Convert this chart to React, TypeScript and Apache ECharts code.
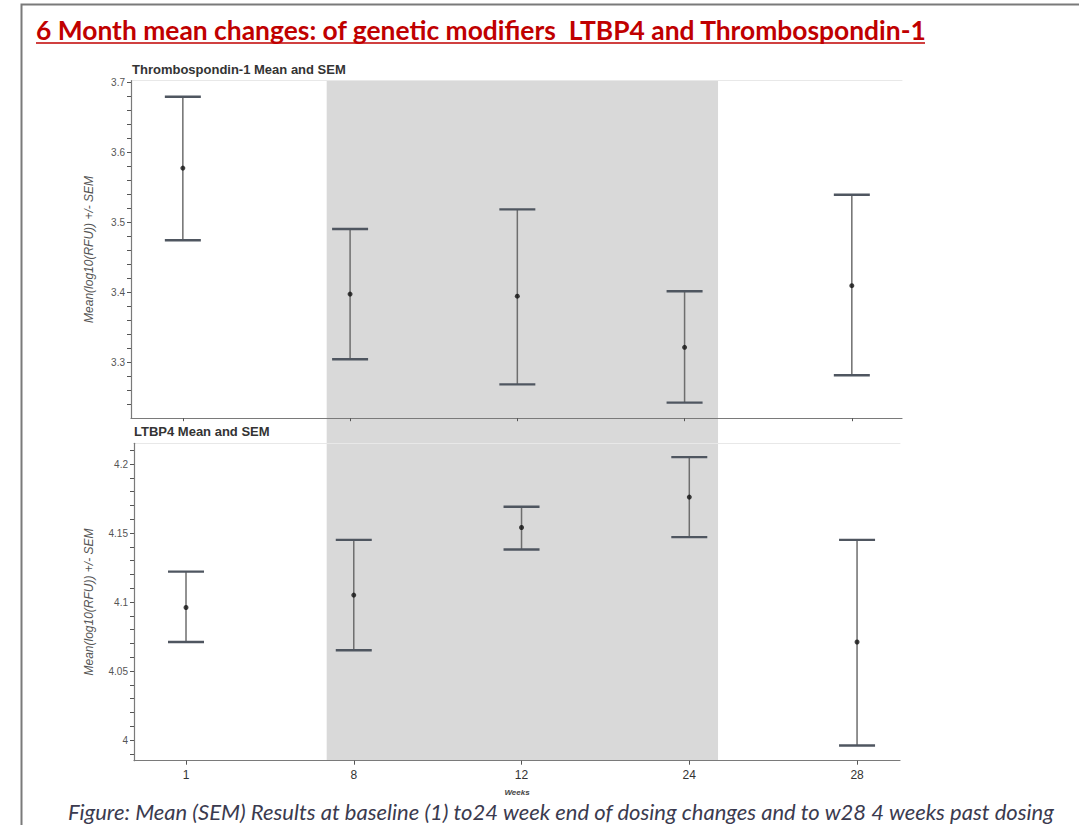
import React, { useEffect, useRef } from 'react';
import * as echarts from 'echarts';

// ---------- data ----------
const weeks = ['1', '8', '12', '24', '28'];
const weekIndex = [0, 1, 2, 3, 4];

const thbsMean = [3.578, 3.398, 3.395, 3.322, 3.41];
const thbsLow = [3.475, 3.305, 3.269, 3.243, 3.282];
const thbsHigh = [3.68, 3.491, 3.519, 3.402, 3.54];

const ltbpMean = [4.096, 4.105, 4.154, 4.176, 4.071];
const ltbpLow = [4.071, 4.065, 4.138, 4.147, 3.996];
const ltbpHigh = [4.122, 4.145, 4.169, 4.205, 4.145];

// dosing period shading, in week-index units
const dosingStart = 0.86;
const dosingEnd = 3.2;

const thbsTicks = [3.24, 3.26, 3.28, 3.3, 3.32, 3.34, 3.36, 3.38, 3.4, 3.42, 3.44, 3.46, 3.48, 3.5, 3.52, 3.54, 3.56, 3.58, 3.6, 3.62, 3.64, 3.66, 3.68, 3.7];
const thbsLabels = [3.3, 3.4, 3.5, 3.6, 3.7];
const ltbpTicks = [3.99, 4.0, 4.01, 4.02, 4.03, 4.04, 4.05, 4.06, 4.07, 4.08, 4.09, 4.1, 4.11, 4.12, 4.13, 4.14, 4.15, 4.16, 4.17, 4.18, 4.19, 4.2, 4.21];
const ltbpLabels = [4, 4.05, 4.1, 4.15, 4.2];

const mainTitle = '6 Month mean changes: of genetic modifiers  LTBP4 and Thrombospondin-1';
const caption = 'Figure: Mean (SEM) Results at baseline (1) to24 week end of dosing changes and to w28 4 weeks past dosing';
const yName = 'Mean(log10(RFU)) +/- SEM';

const errorRender = (params: any, api: any) => {
  const x = api.value(0);
  const lo = api.value(1);
  const hi = api.value(2);
  const pLo = api.coord([x, lo]);
  const pHi = api.coord([x, hi]);
  const hw = 18;
  return {
    type: 'group',
    children: [
      { type: 'line', shape: { x1: pHi[0], y1: pHi[1], x2: pLo[0], y2: pLo[1] }, style: { stroke: '#6e6e6e', lineWidth: 1.5 } },
      { type: 'line', shape: { x1: pHi[0] - hw, y1: pHi[1], x2: pHi[0] + hw, y2: pHi[1] }, style: { stroke: '#4f5660', lineWidth: 2.4 } },
      { type: 'line', shape: { x1: pLo[0] - hw, y1: pLo[1], x2: pLo[0] + hw, y2: pLo[1] }, style: { stroke: '#4f5660', lineWidth: 2.4 } },
    ],
  };
};

const shadeRender = (params: any, api: any) => {
  const p0 = api.coord([api.value(0), 1]);
  const p1 = api.coord([api.value(1), 0]);
  return {
    type: 'rect',
    shape: { x: p0[0], y: p0[1], width: p1[0] - p0[0], height: p1[1] - p0[1] },
    style: { fill: '#d9d9d9' },
  };
};

const axisGrey = '#7a7a7a';
const fontFam = 'Arial, "Liberation Sans", sans-serif';

export default function App() {
  const ref = useRef<HTMLDivElement>(null);
  useEffect(() => {
    if (!ref.current) return;
    const chart = echarts.init(ref.current, null, { renderer: 'svg' });

    const yAxisCommon = (ticks: number[], labels: number[], min: number, max: number, gridIndex: number, gap: number) => ({
      type: 'value',
      gridIndex,
      min,
      max,
      z: 3,
      name: yName,
      nameLocation: 'middle',
      nameGap: gap,
      nameRotate: 90,
      nameTextStyle: { fontStyle: 'italic', fontSize: 12, color: '#555', fontFamily: fontFam },
      axisLine: { show: true, onZero: false, lineStyle: { color: axisGrey, width: 1.2 } },
      axisTick: { show: true, length: 4, customValues: ticks, lineStyle: { color: '#555' } },
      axisLabel: { customValues: labels, fontSize: 10, color: '#555', margin: 6, fontFamily: fontFam },
      splitLine: { show: false },
    });

    const option: any = {
      animation: false,
      backgroundColor: '#ffffff',
      title: [
        { text: 'Thrombospondin-1 Mean and SEM', left: 132, top: 63, padding: 0, textStyle: { fontSize: 13, fontWeight: 'bold', color: '#333', fontFamily: fontFam } },
        { text: 'LTBP4 Mean and SEM', left: 134, top: 425, padding: 0, textStyle: { fontSize: 13, fontWeight: 'bold', color: '#333', fontFamily: fontFam } },
      ],
      grid: [
        { left: 131, top: 80.7, width: 771, height: 337.5 },
        { left: 134, top: 443.3, width: 766, height: 317.4 },
        { left: 131, top: 80.7, width: 771, height: 680 },
      ],
      xAxis: [
        {
          type: 'value', gridIndex: 0, min: -0.31, max: 4.3, z: 3,
          axisLine: { show: true, onZero: false, lineStyle: { color: axisGrey, width: 1.2 } },
          axisTick: { show: true, length: 3, customValues: weekIndex, lineStyle: { color: '#555' } },
          axisLabel: { show: false },
          splitLine: { show: false },
        },
        {
          type: 'value', gridIndex: 1, min: -0.31, max: 4.256, z: 3,
          name: 'Weeks', nameLocation: 'middle', nameGap: 28,
          nameTextStyle: { fontStyle: 'italic', fontWeight: 'bold', fontSize: 8, color: '#444', fontFamily: fontFam },
          axisLine: { show: true, onZero: false, lineStyle: { color: axisGrey, width: 1.2 } },
          axisTick: { show: true, length: 4, customValues: weekIndex, lineStyle: { color: '#555' } },
          axisLabel: { customValues: weekIndex, formatter: (v: number) => weeks[Math.round(v)] ?? '', fontSize: 12, color: '#333', margin: 8, fontFamily: fontFam },
          splitLine: { show: false },
        },
        { type: 'value', gridIndex: 2, min: -0.31, max: 4.3, show: false },
        {
          type: 'value', gridIndex: 0, min: -0.31, max: 4.3, position: 'top', z: 1,
          axisLine: { show: true, onZero: false, lineStyle: { color: '#e8e8e8', width: 1 } },
          axisTick: { show: false }, axisLabel: { show: false }, splitLine: { show: false },
        },
        {
          type: 'value', gridIndex: 1, min: -0.31, max: 4.256, position: 'top', z: 1,
          axisLine: { show: true, onZero: false, lineStyle: { color: '#e8e8e8', width: 1 } },
          axisTick: { show: false }, axisLabel: { show: false }, splitLine: { show: false },
        },
      ],
      yAxis: [
        yAxisCommon(thbsTicks, thbsLabels, 3.2207, 3.7029, 0, 36),
        yAxisCommon(ltbpTicks, ltbpLabels, 3.985, 4.215, 1, 39),
        { type: 'value', gridIndex: 2, min: 0, max: 1, show: false },
      ],
      series: [
        {
          type: 'custom', xAxisIndex: 2, yAxisIndex: 2, z: 1, silent: true,
          renderItem: shadeRender,
          encode: { x: [0, 1] },
          data: [[dosingStart, dosingEnd]],
        },
        {
          type: 'custom', xAxisIndex: 0, yAxisIndex: 0, z: 5,
          renderItem: errorRender,
          encode: { x: 0, y: [1, 2] },
          data: weekIndex.map((i) => [i, thbsLow[i], thbsHigh[i]]),
        },
        {
          type: 'scatter', xAxisIndex: 0, yAxisIndex: 0, z: 6,
          symbolSize: 5, itemStyle: { color: '#111' },
          data: weekIndex.map((i) => [i, thbsMean[i]]),
        },
        {
          type: 'custom', xAxisIndex: 1, yAxisIndex: 1, z: 5,
          renderItem: errorRender,
          encode: { x: 0, y: [1, 2] },
          data: weekIndex.map((i) => [i, ltbpLow[i], ltbpHigh[i]]),
        },
        {
          type: 'scatter', xAxisIndex: 1, yAxisIndex: 1, z: 6,
          symbolSize: 5, itemStyle: { color: '#111' },
          data: weekIndex.map((i) => [i, ltbpMean[i]]),
        },
      ],
      graphic: [
        {
          type: 'polyline', silent: true,
          shape: { points: [[21.5, 825], [21.5, 4.5], [1079, 4.5]] },
          style: { stroke: '#7a7a7a', lineWidth: 2, fill: null },
        },
        {
          type: 'text', x: 36, y: 30, silent: true,
          style: { text: mainTitle, fill: '#c00000', font: 'bold 26.4px Lato, "Open Sans", sans-serif', align: 'left', verticalAlign: 'middle' },
        },
        {
          type: 'line', silent: true,
          shape: { x1: 36, y1: 43, x2: 925, y2: 43 },
          style: { stroke: '#c00000', lineWidth: 1.5 },
        },
        {
          type: 'text', x: 68, y: 811, silent: true,
          style: { text: caption, fill: '#3b3b4f', font: 'italic 22px Lato, "Open Sans", sans-serif', align: 'left', verticalAlign: 'middle' },
        },
      ],
    };

    chart.setOption(option);
    return () => chart.dispose();
  }, []);

  return (
    <div
      ref={ref}
      style={{ position: 'absolute', left: 0, top: 0, width: 1079, height: 825, background: '#fff' }}
    />
  );
}
